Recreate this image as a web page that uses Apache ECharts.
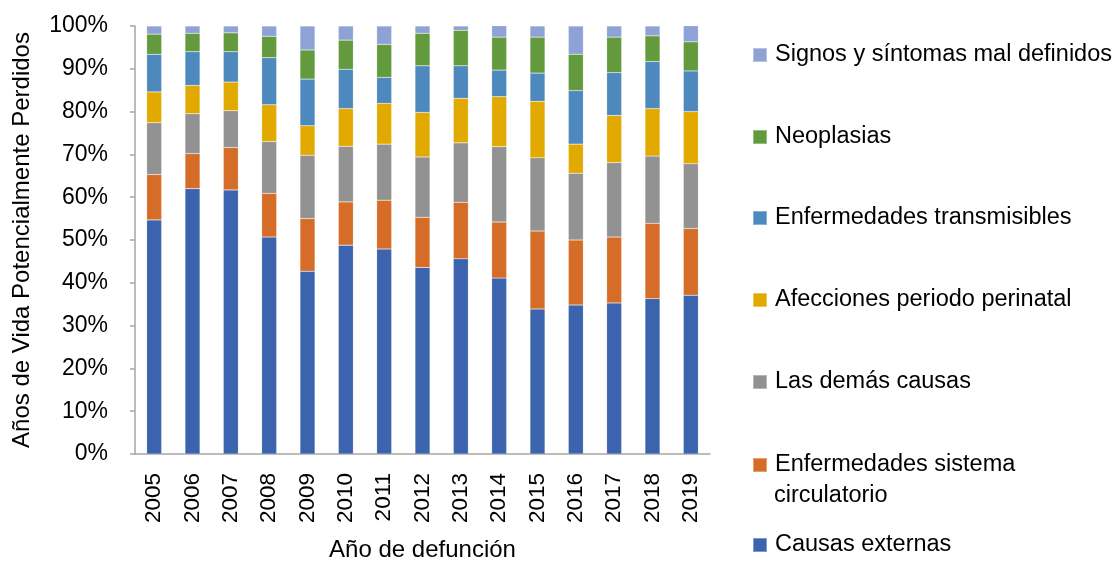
<!DOCTYPE html>
<html>
<head>
<meta charset="utf-8">
<script src="https://cdn.jsdelivr.net/npm/echarts@6/dist/echarts.min.js"></script>
<style>
  html, body { margin: 0; padding: 0; background: #fff; }
  #chart { width: 1119px; height: 567px; }
</style>
</head>
<body>
<div id="chart"></div>
<script>
// datos: porcentaje de AVPP por grupo de causa
const years = ["2005", "2006", "2007", "2008", "2009", "2010", "2011", "2012", "2013", "2014", "2015", "2016", "2017", "2018", "2019"];
const causasExternas = [54.7, 62.0, 61.7, 50.7, 42.7, 48.8, 47.9, 43.6, 45.6, 41.1, 33.9, 34.8, 35.3, 36.3, 37.1];
const circulatorio   = [10.6, 8.2, 9.9, 10.2, 12.3, 10.1, 11.4, 11.7, 13.2, 13.1, 18.2, 15.2, 15.4, 17.6, 15.6];
const demasCausas    = [12.1, 9.3, 8.6, 12.1, 14.8, 13.0, 13.1, 14.1, 13.9, 17.6, 17.1, 15.6, 17.4, 15.7, 15.1];
const perinatal      = [7.2, 6.6, 6.7, 8.6, 6.9, 8.8, 9.5, 10.4, 10.4, 11.7, 13.2, 6.8, 11.0, 11.1, 12.2];
const transmisibles  = [8.8, 7.9, 7.1, 11.0, 10.9, 9.2, 6.1, 10.9, 7.6, 6.2, 6.6, 12.5, 10.0, 11.0, 9.5];
const neoplasias     = [4.7, 4.3, 4.4, 5.0, 6.8, 6.8, 7.7, 7.6, 8.3, 7.7, 8.4, 8.5, 8.3, 6.0, 6.8];
const signos         = [1.9, 1.7, 1.6, 2.4, 5.6, 3.3, 4.3, 1.7, 1.0, 3.0, 2.6, 6.6, 2.6, 2.3, 3.9];

const FONT = '"Liberation Sans Narrow", "Arial Narrow", "Liberation Sans", Arial, sans-serif';

let seriesDef = [
  { name: "Causas externas", data: causasExternas, color: "#3C64AE", legendY: 545 },
  { name: "Enfermedades sistema circulatorio", data: circulatorio, color: "#D56D29", legendY: 465 },
  { name: "Las demás causas", data: demasCausas, color: "#929292", legendY: 382 },
  { name: "Afecciones periodo perinatal", data: perinatal, color: "#E2AA00", legendY: 300 },
  { name: "Enfermedades transmisibles", data: transmisibles, color: "#4E89BE", legendY: 218 },
  { name: "Neoplasias", data: neoplasias, color: "#629A3D", legendY: 137 },
  { name: "Signos y síntomas mal definidos", data: signos, color: "#8FA2D5", legendY: 55 }
];

let myChart = echarts.init(document.getElementById("chart"));

let option = {
  backgroundColor: "#fff",
  animation: false,
  textStyle: { fontFamily: FONT },
  grid: { left: 135, right: 409, top: 26, bottom: 108 },
  // una leyenda por serie para poder ubicarlas como en el original
  legend: seriesDef.map((s) => ({
    data: [s.name],
    left: 752,
    top: s.legendY - 15,
    padding: 0,
    itemWidth: 14,
    itemHeight: 14,
    icon: "rect",
    selectedMode: false,
    formatter: (name) => (name === "Enfermedades sistema circulatorio" ? "Enfermedades sistema" : name),
    textStyle: { fontFamily: FONT, fontSize: 23.5, color: "#000", lineHeight: 30, padding: [0, 0, 0, 3] }
  })),
  graphic: [
    {
      type: "text",
      left: 774,
      top: 484,
      style: { text: "circulatorio", fontFamily: FONT, fontSize: 23.5, fill: "#000" }
    }
  ],
  xAxis: {
    type: "category",
    data: years,
    name: "Año de defunción",
    nameLocation: "middle",
    nameGap: 84,
    nameTextStyle: { fontFamily: FONT, fontSize: 24, color: "#000" },
    axisLine: { lineStyle: { color: "#A6A6A6", width: 1.5 } },
    axisTick: { length: 7, lineStyle: { color: "#A6A6A6", width: 1.5 } },
    axisLabel: { rotate: 90, margin: 19, fontFamily: FONT, fontSize: 22.5, color: "#000" }
  },
  yAxis: {
    type: "value",
    min: 0,
    max: 100,
    interval: 10,
    name: "Años de Vida Potencialmente Perdidos",
    nameLocation: "middle",
    nameGap: 101,
    nameTextStyle: { fontFamily: FONT, fontSize: 24, color: "#000" },
    axisLine: { show: true, lineStyle: { color: "#A6A6A6", width: 1.5 } },
    axisTick: { show: true, length: 5, lineStyle: { color: "#A6A6A6", width: 1.5 } },
    splitLine: { show: false },
    axisLabel: { formatter: "{value}%", margin: 27, fontFamily: FONT, fontSize: 23, color: "#000" }
  },
  series: seriesDef.map((s) => ({
    name: s.name,
    type: "bar",
    stack: "total",
    barWidth: 15,
    data: s.data,
    itemStyle: { color: s.color, borderColor: "rgba(255,255,255,0.35)", borderWidth: 0.5 }
  }))
};

myChart.setOption(option);
</script>
</body>
</html>
